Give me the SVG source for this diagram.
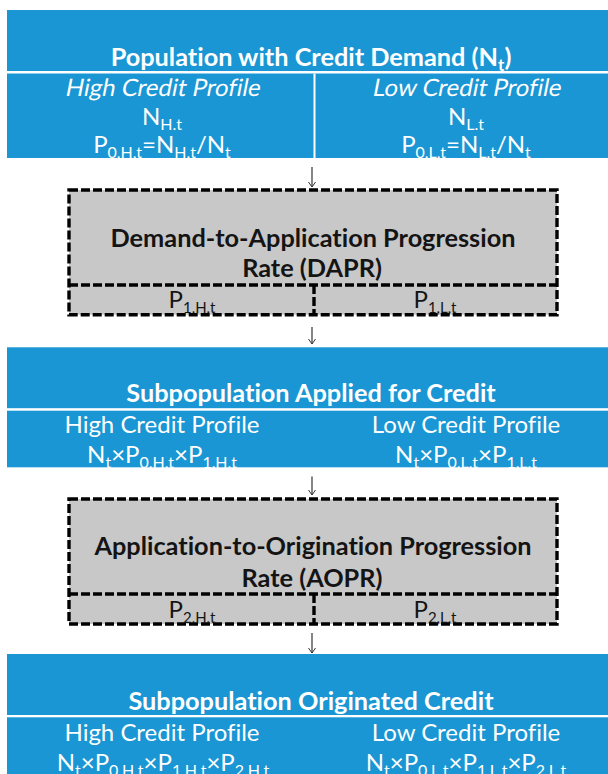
<svg xmlns="http://www.w3.org/2000/svg" width="608" height="774" viewBox="0 0 608 774">
  <defs>
    <style>
      .blue { fill: #1996d3; }
      .rule { fill: #ffffff; }
      .rate { fill: #c8c8c8; stroke: #000000; stroke-width: 3.4; stroke-dasharray: 9 3; }
      .rate-line { fill: none; stroke: #000000; stroke-width: 3.4; stroke-dasharray: 9 3; }
      text { font-family: Lato, "Liberation Sans", sans-serif; text-anchor: middle; font-variant-ligatures: none; }
      .w { fill: #ffffff; }
      .k { fill: #141414; }
      .ttl { font-weight: bold; font-size: 25.3px; }
      .lbl { font-size: 24px; }
      .p { font-size: 24px; }
      .sub { font-size: 16px; }
      .tsub { font-size: 17px; }
      .subs { font-size: 15px; }
      .conn { stroke: #333333; stroke-width: 1.2; fill: none; }
    </style>
    <marker id="head" viewBox="0 0 5 8" refX="5" refY="4" markerWidth="5" markerHeight="8" markerUnits="userSpaceOnUse" orient="auto">
      <path d="M0,0.5 L5,4 L0,7.5" fill="none" stroke="#333333" stroke-width="1"/>
    </marker>
  </defs>

  <!-- Population with credit demand -->
  <g id="population">
    <rect class="blue" x="7" y="10" width="609" height="148"/>
    <rect class="rule" x="7" y="71" width="609" height="2.5"/>
    <rect class="rule" x="313.5" y="73.5" width="2" height="85"/>
    <text class="w ttl" x="311" y="66">Population with Credit Demand (N<tspan class="tsub" dy="5">t</tspan><tspan dy="-5">)</tspan></text>
    <text class="w lbl" transform="translate(162,96) skewX(-11)">High Credit Profile</text>
    <text class="w lbl" x="162" y="125">N<tspan class="sub" dy="5">H.t</tspan></text>
    <text class="w lbl" x="162" y="153">P<tspan class="sub" dy="5">0,H,t</tspan><tspan dy="-5">=N</tspan><tspan class="sub" dy="5">H,t</tspan><tspan dy="-5">/N</tspan><tspan class="sub" dy="5">t</tspan></text>
    <text class="w lbl" transform="translate(466,96) skewX(-11)">Low Credit Profile</text>
    <text class="w lbl" x="466" y="125">N<tspan class="sub" dy="5">L.t</tspan></text>
    <text class="w lbl" x="466" y="153">P<tspan class="sub" dy="5">0,L,t</tspan><tspan dy="-5">=N</tspan><tspan class="sub" dy="5">L,t</tspan><tspan dy="-5">/N</tspan><tspan class="sub" dy="5">t</tspan></text>
  </g>

  <!-- Demand-to-application progression rate -->
  <g id="dapr">
    <rect class="rate" x="69" y="190" width="488" height="124.7"/>
    <line class="rate-line" x1="69" y1="285" x2="557" y2="285"/>
    <line class="rate-line" x1="314" y1="285" x2="314" y2="314.7"/>
    <text class="k ttl" x="313" y="247">Demand-to-Application Progression</text>
    <text class="k ttl" x="312" y="277">Rate (DAPR)</text>
    <text class="k p" x="192" y="308">P<tspan class="subs" dy="5">1,H,t</tspan></text>
    <text class="k p" x="435" y="308">P<tspan class="subs" dy="5">1,L,t</tspan></text>
  </g>

  <!-- Subpopulation applied for credit -->
  <g id="applied">
    <rect class="blue" x="7" y="347.3" width="609" height="120"/>
    <rect class="rule" x="7" y="408.2" width="609" height="2.5"/>
    <text class="w ttl" x="311" y="401.5">Subpopulation Applied for Credit</text>
    <text class="w lbl" x="162" y="433">High Credit Profile</text>
    <text class="w lbl" x="162" y="463">N<tspan class="sub" dy="5">t</tspan><tspan dy="-5">×P</tspan><tspan class="sub" dy="5">0,H,t</tspan><tspan dy="-5">×P</tspan><tspan class="sub" dy="5">1,H,t</tspan></text>
    <text class="w lbl" x="466" y="433">Low Credit Profile</text>
    <text class="w lbl" x="466" y="463">N<tspan class="sub" dy="5">t</tspan><tspan dy="-5">×P</tspan><tspan class="sub" dy="5">0,L,t</tspan><tspan dy="-5">×P</tspan><tspan class="sub" dy="5">1,L,t</tspan></text>
  </g>

  <!-- Application-to-origination progression rate -->
  <g id="aopr">
    <rect class="rate" x="69" y="499" width="488" height="125"/>
    <line class="rate-line" x1="69" y1="594" x2="557" y2="594"/>
    <line class="rate-line" x1="314" y1="594" x2="314" y2="624"/>
    <text class="k ttl" x="313" y="555">Application-to-Origination Progression</text>
    <text class="k ttl" x="312" y="586.5">Rate (AOPR)</text>
    <text class="k p" x="192" y="618">P<tspan class="subs" dy="5">2,H,t</tspan></text>
    <text class="k p" x="435" y="618">P<tspan class="subs" dy="5">2,L,t</tspan></text>
  </g>

  <!-- Subpopulation originated credit -->
  <g id="originated">
    <rect class="blue" x="7" y="654" width="609" height="120"/>
    <rect class="rule" x="7" y="715" width="609" height="2.3"/>
    <text class="w ttl" x="311" y="710">Subpopulation Originated Credit</text>
    <text class="w lbl" x="162" y="741">High Credit Profile</text>
    <text class="w lbl" x="163" y="770.5">N<tspan class="sub" dy="5">t</tspan><tspan dy="-5">×P</tspan><tspan class="sub" dy="5">0,H,t</tspan><tspan dy="-5">×P</tspan><tspan class="sub" dy="5">1,H,t</tspan><tspan dy="-5">×P</tspan><tspan class="sub" dy="5">2,H,t</tspan></text>
    <text class="w lbl" x="466" y="741">Low Credit Profile</text>
    <text class="w lbl" x="466" y="770.5">N<tspan class="sub" dy="5">t</tspan><tspan dy="-5">×P</tspan><tspan class="sub" dy="5">0,L,t</tspan><tspan dy="-5">×P</tspan><tspan class="sub" dy="5">1,L,t</tspan><tspan dy="-5">×P</tspan><tspan class="sub" dy="5">2,L,t</tspan></text>
  </g>

  <!-- Flow arrows between stages -->
  <g id="connectors">
    <line class="conn" x1="312" y1="167" x2="312" y2="187" marker-end="url(#head)"/>
    <line class="conn" x1="312" y1="327" x2="312" y2="344" marker-end="url(#head)"/>
    <line class="conn" x1="312" y1="476.5" x2="312" y2="495" marker-end="url(#head)"/>
    <line class="conn" x1="312" y1="633" x2="312" y2="653" marker-end="url(#head)"/>
  </g>
</svg>
